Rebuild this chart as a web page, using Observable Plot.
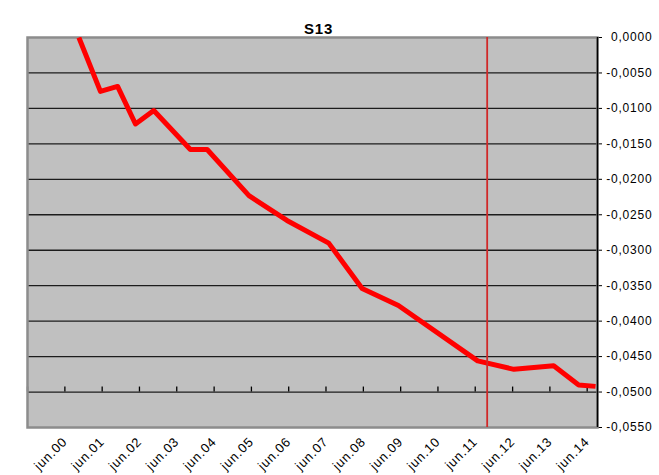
<!DOCTYPE html>
<html>
<head>
<meta charset="utf-8">
<script src="https://cdn.jsdelivr.net/npm/d3@7"></script>
<script src="https://cdn.jsdelivr.net/npm/@observablehq/plot@0.6"></script>
<style>
  html, body { margin: 0; padding: 0; background: #fff; }
  #chart svg text { letter-spacing: 0.8px; }
</style>
</head>
<body>
<div id="chart"></div>
<script>
// ---- data ----
const chartTitle = "S13";
const dates = ["2000-10-16","2001-05-15","2001-10-30","2002-04-23","2002-10-19","2003-10-12","2004-03-25","2005-05-08","2006-05-15","2007-06-28","2008-05-20","2009-05-10","2011-06-25","2012-06-14","2013-07-08","2014-03-10","2014-08-22"];
const values = [0.0000, -0.0076, -0.0069, -0.0122, -0.0103, -0.0158, -0.0158, -0.0223, -0.0258, -0.0290, -0.0354, -0.0378, -0.0456, -0.0468, -0.0463, -0.0490, -0.0492];
const markerDate = "2011-09-26";
const tickYears = [1999,2000,2001,2002,2003,2004,2005,2006,2007,2008,2009,2010,2011,2012,2013,2014];
const labelYears = [2000,2001,2002,2003,2004,2005,2006,2007,2008,2009,2010,2011,2012,2013,2014];
const yTicks = [0,-0.005,-0.010,-0.015,-0.020,-0.025,-0.030,-0.035,-0.040,-0.045,-0.050,-0.055];
const gridValues = [-0.005,-0.010,-0.015,-0.020,-0.025,-0.030,-0.035,-0.040,-0.045,-0.050];
const xAxisValue = -0.050;
const xStart = "1999-06-01", xEnd = "2014-09-10";

// ---- build ----
const data = dates.map((d, i) => ({date: new Date(d), value: values[i]}));
const tickDates = tickYears.map(y => new Date(Date.UTC(y, 5, 1)));
const labelDates = labelYears.map(y => new Date(Date.UTC(y, 5, 1)));
const xDomain = [new Date(xStart), new Date(xEnd)];
const yDomain = [-0.055, 0];
const fmtY = d => (d < 0 ? "-" : "") + Math.abs(d).toFixed(4).replace(".", ",");
const fmtX = d => "jun." + String(d.getUTCFullYear() % 100).padStart(2, "0");

const W = 659, H = 475, mt = 37, mb = 48, ml = 27, mr = 62;
const tickLen = (yDomain[1] - yDomain[0]) * 5 / (H - mt - mb);
const font = "'Liberation Sans', Arial, sans-serif";

const chart = Plot.plot({
  width: W, height: H,
  marginTop: mt, marginBottom: mb, marginLeft: ml, marginRight: mr,
  style: {fontFamily: font, fontSize: "12px", background: "#fff", color: "#000", overflow: "visible"},
  x: {type: "utc", domain: xDomain, axis: null},
  y: {domain: yDomain, ticks: yTicks, tickFormat: () => "", axis: "right", tickSize: 4, tickPadding: 0, label: null},
  marks: [
    Plot.frame({fill: "#c0c0c0"}),
    Plot.ruleY(gridValues, {stroke: "#1c1c1c", strokeWidth: 1.3}),
    Plot.ruleX(tickDates, {x: d => d, y1: () => xAxisValue, y2: () => xAxisValue + tickLen, stroke: "#000", strokeWidth: 1.3}),
    Plot.frame({stroke: "#8c8c8c", strokeWidth: 2.5}),
    Plot.ruleX([xDomain[1]], {stroke: "#000", strokeWidth: 1.5}),
    Plot.line(data, {x: "date", y: "value", stroke: "#ff0000", strokeWidth: 5, strokeLinejoin: "round", strokeLinecap: "butt", clip: true}),
    Plot.ruleX([new Date(markerDate)], {stroke: "#d02828", strokeWidth: 1.8}),
    Plot.text(labelDates, {x: d => d, text: fmtX, frameAnchor: "bottom", rotate: -45, textAnchor: "end", dx: 3, dy: 15, fontSize: 13, fill: "#000"}),
    Plot.text(yTicks, {y: d => d, text: fmtY, frameAnchor: "right", textAnchor: "end", dx: 55, fontSize: 12, fill: "#000"}),
    Plot.text([chartTitle], {frameAnchor: "top", dy: -14, dx: 6, fontSize: 15, fontWeight: "bold", fill: "#000"})
  ]
});
document.getElementById("chart").appendChild(chart);
</script>
</body>
</html>
